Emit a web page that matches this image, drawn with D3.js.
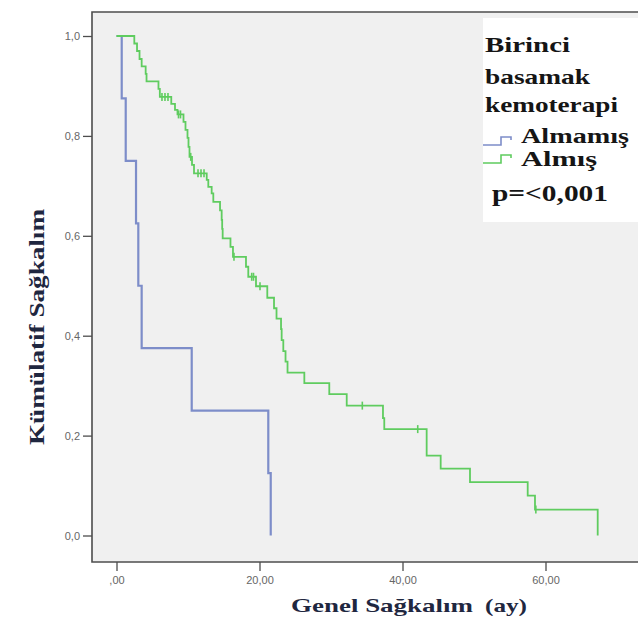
<!DOCTYPE html>
<html>
<head>
<meta charset="utf-8">
<script src="https://cdn.jsdelivr.net/npm/d3@7/dist/d3.min.js"></script>
<style>
  html, body { margin: 0; padding: 0; background: #ffffff; }
  svg { display: block; }
</style>
</head>
<body>
<svg id="chart" width="638" height="623"></svg>
<script>
// ---------- data ----------
const xTicks = [0, 20, 40, 60];
const xTickLabels = [",00", "20,00", "40,00", "60,00"];
const yTicks = [0, 0.2, 0.4, 0.6, 0.8, 1.0];
const yTickLabels = ["0,0", "0,2", "0,4", "0,6", "0,8", "1,0"];

const seriesNames = ["Almamış", "Almış"];

// Almamış (not received): step times and survival after each drop
const blueTimes = [0, 0.73, 1.29, 2.73, 3.05, 3.52, 10.52, 21.23, 21.57];
const blueSurv  = [1, 0.875, 0.75, 0.625, 0.5, 0.375, 0.25, 0.125, 0];
const blueCensor = [];

// Almış (received)
const greenTimes = [0, 2.49, 2.87, 3.22, 3.52, 4.08, 4.20, 5.87, 6.06, 7.66, 8.18, 8.53,
  9.37, 9.65, 9.93, 10.07, 10.21, 10.56, 10.84, 12.62, 12.84, 13.31, 13.54, 14.48, 14.71,
  14.78, 14.85, 15.94, 16.29, 18.11, 18.43, 19.51, 21.09, 22.03, 22.38, 23.01, 23.10,
  23.33, 23.64, 23.92, 26.27, 29.76, 32.20, 37.27, 37.45, 43.38, 45.34, 49.44, 57.51,
  58.53, 67.30];
const greenSurv = [1, 0.985, 0.970, 0.954, 0.939, 0.924, 0.909, 0.894, 0.878, 0.864, 0.852, 0.843,
  0.828, 0.812, 0.796, 0.778, 0.758, 0.742, 0.725, 0.712, 0.698, 0.685, 0.668, 0.651, 0.632,
  0.614, 0.595, 0.578, 0.558, 0.538, 0.518, 0.499, 0.476, 0.455, 0.434, 0.413, 0.391,
  0.369, 0.348, 0.326, 0.305, 0.283, 0.260, 0.235, 0.213, 0.160, 0.134, 0.107, 0.080,
  0.052, 0];
const greenCensor = [6.36, 6.78, 7.20, 8.67, 8.95, 10.38, 11.40, 11.82, 12.24, 16.43,
  18.91, 19.16, 20.07, 34.38, 42.13, 58.65];

// ---------- layout ----------
const svg = d3.select("#chart");
const x = d3.scaleLinear().domain([0, 60]).range([116.5, 545.5]);
const y = d3.scaleLinear().domain([0, 1]).range([535.5, 36]);

const frame = { left: 92, top: 12, right: 640, bottom: 562 };
const axisColor = "#4d4d4d";
const blue = "#7d8dc9";
const green = "#5fcc5f";

// plot background
svg.append("rect")
  .attr("x", frame.left).attr("y", frame.top)
  .attr("width", frame.right - frame.left).attr("height", frame.bottom - frame.top)
  .attr("fill", "#f0f0f0");

// axes
const yAxis = d3.axisLeft(y).tickValues(yTicks).tickSize(9).tickPadding(3)
  .tickFormat((d, i) => yTickLabels[i]);
const gy = svg.append("g").attr("transform", `translate(${frame.left},0)`).call(yAxis);
gy.select(".domain").remove();
gy.selectAll("line").attr("stroke", axisColor).attr("stroke-width", 1.3);
gy.selectAll("text").attr("fill", "#666").attr("font-size", "11px")
  .attr("font-family", "Liberation Sans, Arial, sans-serif");

const xAxis = d3.axisBottom(x).tickValues(xTicks).tickSize(9).tickPadding(5)
  .tickFormat((d, i) => xTickLabels[i]);
const gx = svg.append("g").attr("transform", `translate(0,${frame.bottom})`).call(xAxis);
gx.select(".domain").remove();
gx.selectAll("line").attr("stroke", axisColor).attr("stroke-width", 1.3);
gx.selectAll("text").attr("fill", "#666").attr("font-size", "11px")
  .attr("font-family", "Liberation Sans, Arial, sans-serif");

// frame lines
svg.append("path")
  .attr("d", `M${frame.right},${frame.top}H${frame.left}V${frame.bottom}H${frame.right}`)
  .attr("fill", "none").attr("stroke", axisColor).attr("stroke-width", 1.6);

// curves
const line = d3.line().x(d => x(d[0])).y(d => y(d[1])).curve(d3.curveStepAfter);

function drawSeries(times, surv, censor, color, width) {
  const pts = times.map((t, i) => [t, surv[i]]);
  svg.append("path").datum(pts)
    .attr("d", line)
    .attr("fill", "none").attr("stroke", color).attr("stroke-width", width)
    .attr("stroke-linejoin", "miter");
  const bis = d3.bisector(d => d).right;
  svg.append("g").selectAll("line").data(censor).join("line")
    .attr("x1", d => x(d)).attr("x2", d => x(d))
    .attr("y1", d => y(surv[bis(times, d) - 1]) - 4)
    .attr("y2", d => y(surv[bis(times, d) - 1]) + 4)
    .attr("stroke", color).attr("stroke-width", 1.6);
}
drawSeries(blueTimes, blueSurv, blueCensor, blue, 2.2);
drawSeries(greenTimes, greenSurv, greenCensor, green, 1.8);

// axis titles
const serif = "Liberation Serif, Times New Roman, serif";
svg.append("text")
  .attr("transform", "translate(44,327) rotate(-90)")
  .attr("text-anchor", "middle")
  .attr("font-family", serif).attr("font-weight", "bold").attr("font-size", "20px")
  .attr("fill", "#1f2740")
  .attr("textLength", 236).attr("lengthAdjust", "spacingAndGlyphs")
  .text("Kümülatif Sağkalım");

svg.append("text")
  .attr("x", 291).attr("y", 612)
  .attr("font-family", serif).attr("font-weight", "bold").attr("font-size", "19px")
  .attr("fill", "#1f2740")
  .attr("textLength", 182).attr("lengthAdjust", "spacingAndGlyphs")
  .text("Genel Sağkalım");
svg.append("text")
  .attr("x", 485).attr("y", 612)
  .attr("font-family", serif).attr("font-weight", "bold").attr("font-size", "19px")
  .attr("fill", "#1f2740")
  .attr("textLength", 42).attr("lengthAdjust", "spacingAndGlyphs")
  .text("(ay)");

// legend
svg.append("rect").attr("x", 483).attr("y", 18).attr("width", 160).attr("height", 204)
  .attr("fill", "#ffffff");
const legendTitle = ["Birinci", "basamak", "kemoterapi"];
const titleY = [51.5, 84, 112];
const titleLen = [85, 105, 133];
svg.append("g").selectAll("text").data(legendTitle).join("text")
  .attr("x", 485).attr("y", (d, i) => titleY[i])
  .attr("font-family", serif).attr("font-weight", "bold").attr("font-size", "22px")
  .attr("fill", "#151515")
  .attr("textLength", (d, i) => titleLen[i]).attr("lengthAdjust", "spacingAndGlyphs")
  .text(d => d);

const legColors = [blue, green];
const legY = [145, 163];
const legTextY = [143, 166];
const legTextLen = [108, 76];
seriesNames.forEach((name, i) => {
  const yy = legY[i];
  svg.append("path")
    .attr("d", `M483,${yy}H501V${yy - 8}H511V${yy - 5}`)
    .attr("fill", "none").attr("stroke", legColors[i]).attr("stroke-width", 1.6);
  svg.append("text")
    .attr("x", 521).attr("y", legTextY[i])
    .attr("font-family", serif).attr("font-weight", "bold").attr("font-size", "20px")
    .attr("fill", "#151515")
    .attr("textLength", legTextLen[i]).attr("lengthAdjust", "spacingAndGlyphs")
    .text(name);
});
svg.append("text")
  .attr("x", 492).attr("y", 201)
  .attr("font-family", serif).attr("font-weight", "bold").attr("font-size", "23px")
  .attr("fill", "#151515")
  .attr("textLength", 116).attr("lengthAdjust", "spacingAndGlyphs")
  .text("p=<0,001");
</script>
</body>
</html>
